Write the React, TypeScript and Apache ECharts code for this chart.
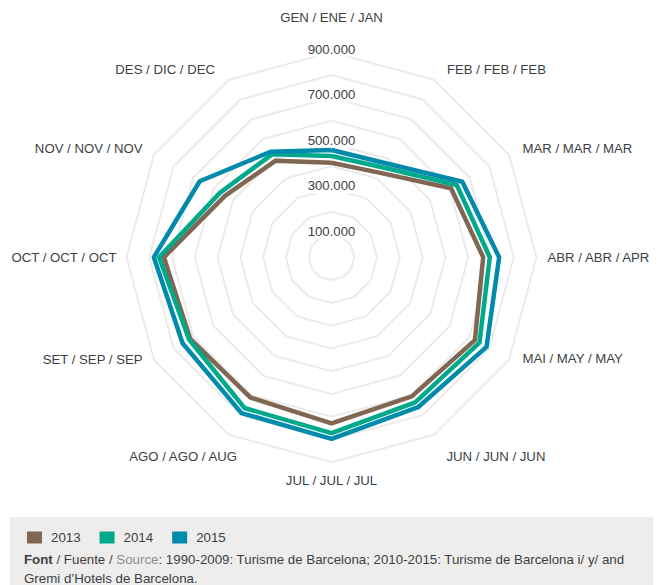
import React, { useEffect, useRef } from 'react';
import * as echarts from 'echarts';

const months = [
  'GEN / ENE / JAN', 'FEB / FEB / FEB', 'MAR / MAR / MAR', 'ABR / ABR / APR',
  'MAI / MAY / MAY', 'JUN / JUN / JUN', 'JUL / JUL / JUL', 'AGO / AGO / AUG',
  'SET / SEP / SEP', 'OCT / OCT / OCT', 'NOV / NOV / NOV', 'DES / DIC / DEC',
];
const years = ['2013', '2014', '2015'];
const v2013 = [415000, 428000, 606000, 666000, 727000, 705000, 729000, 711000, 716000, 736000, 540000, 490000];
const v2014 = [445000, 455000, 635000, 695000, 750000, 735000, 772000, 764000, 722000, 757000, 566000, 522000];
const v2015 = [471000, 477000, 663000, 736000, 786000, 760000, 797000, 790000, 755000, 780000, 668000, 535000];
const tickLabels = ['100.000', '300.000', '500.000', '700.000', '900.000'];
const axisMax = 900000;
const sourceLine1 = ': 1990-2009: Turisme de Barcelona; 2010-2015: Turisme de Barcelona i/ y/ and';
const sourceLine2 = 'Gremi d\u2019Hotels de Barcelona.';

const FONT = "'Liberation Sans', Arial, Helvetica, sans-serif";
const colors = ['#7f6753', '#00a98b', '#008aab'];
const TEXT = '#3d3f45';

// label layout per month (gap along the axis, padding / vertical nudges)
const nameLayout: { gap: number; pad?: number[]; va?: string; lh?: number }[] = [
  { gap: 28 },
  { gap: 12, pad: [0, 0, 0, 7] },
  { gap: 12, pad: [0, 0, 0, 3] },
  { gap: 11 },
  { gap: 12, pad: [0, 0, 0, 3], va: 'bottom', lh: 15.6 },
  { gap: 25 },
  { gap: 12 },
  { gap: -16, va: 'top', lh: 71.6 },
  { gap: 12, pad: [0, 1, 0, 0], va: 'bottom', lh: 13.6 },
  { gap: 10 },
  { gap: 12, pad: [0, 1, 0, 0] },
  { gap: 12, pad: [0, 8, 0, 0] },
];

export default function App() {
  const ref = useRef<HTMLDivElement>(null);
  useEffect(() => {
    if (!ref.current) return;
    const chart = echarts.init(ref.current, null, { renderer: 'svg' });
    // ECharts radar runs counter-clockwise; reorder so months go clockwise
    const order = [0, ...months.map((_, i) => months.length - 1 - i).slice(0, months.length - 1)];
    const fmt = (v: number) => (v === 0 ? '0' : Math.round(v / 1000) + '.000');
    const seriesVals = [v2013, v2014, v2015];
    chart.setOption({
      animation: false,
      backgroundColor: '#ffffff',
      textStyle: { fontFamily: FONT },
      color: colors,
      legend: {
        left: 22,
        top: 526,
        icon: 'rect',
        itemWidth: 15,
        itemHeight: 12,
        itemGap: 19,
        selectedMode: false,
        textStyle: { fontSize: 13.3, color: TEXT, fontFamily: FONT, padding: [0, 0, 0, 4] },
        data: years,
      },
      radar: {
        center: [331.5, 257.3],
        radius: 205,
        startAngle: 90,
        shape: 'polygon',
        splitNumber: 9,
        axisNameGap: 12,
        axisName: { color: TEXT, fontSize: 13.2, fontFamily: FONT },
        axisLine: { show: false },
        axisTick: { show: false },
        axisLabel: { show: false },
        splitLine: { lineStyle: { color: '#ebebeb', width: 2 } },
        splitArea: { show: false },
        indicator: order.map((i) => {
          const lay = nameLayout[i];
          const nts: any = { padding: lay.pad || [0, 0, 0, 0] };
          if (lay.va) {
            nts.verticalAlign = lay.va;
            nts.lineHeight = lay.lh;
          }
          const ind: any = {
            name: months[i],
            min: 0,
            max: axisMax,
            nameGap: lay.gap,
            nameTextStyle: nts,
          };
          if (i === 0) {
            ind.axisLabel = {
              show: true,
              margin: 0,
              align: 'center',
              verticalAlign: 'middle',
              padding: [0, 0, 6, 0],
              color: TEXT,
              fontSize: 13.2,
              fontFamily: FONT,
              formatter: (v: number) => {
                const s = fmt(v);
                return tickLabels.includes(s) ? '{b|' + s + '}' : '';
              },
              rich: {
                b: {
                  backgroundColor: '#ffffff',
                  padding: [1, 3],
                  color: TEXT,
                  fontSize: 13.2,
                  fontFamily: FONT,
                },
              },
            };
          }
          return ind;
        }),
      },
      series: [
        {
          type: 'radar',
          symbol: 'none',
          silent: true,
          emphasis: { disabled: true },
          data: years.map((y, k) => ({
            name: y,
            value: order.map((i) => seriesVals[k][i]),
            lineStyle: { width: 4.5, color: colors[k] },
            itemStyle: { color: colors[k] },
          })),
        },
      ],
      graphic: [
        {
          type: 'rect',
          z: -10,
          shape: { x: 10, y: 517, width: 643, height: 68 },
          style: { fill: '#eeedeb' },
        },
        {
          type: 'text',
          x: 24,
          y: 549.5,
          style: {
            text: '{b|Font} / Fuente / {g|Source}' + sourceLine1 + '\n' + sourceLine2,
            font: '13.3px ' + FONT,
            fill: TEXT,
            lineHeight: 19,
            verticalAlign: 'top',
            rich: {
              b: { fontWeight: 'bold', fill: TEXT, fontSize: 13.3, fontFamily: FONT, lineHeight: 19 },
              g: { fill: '#8c8c8c', fontSize: 13.3, fontFamily: FONT, lineHeight: 19 },
            },
          },
        },
      ],
    });
    return () => chart.dispose();
  }, []);
  return (
    <div
      ref={ref}
      style={{ position: 'absolute', left: 0, top: 0, width: 669, height: 585, background: '#fff' }}
    />
  );
}
